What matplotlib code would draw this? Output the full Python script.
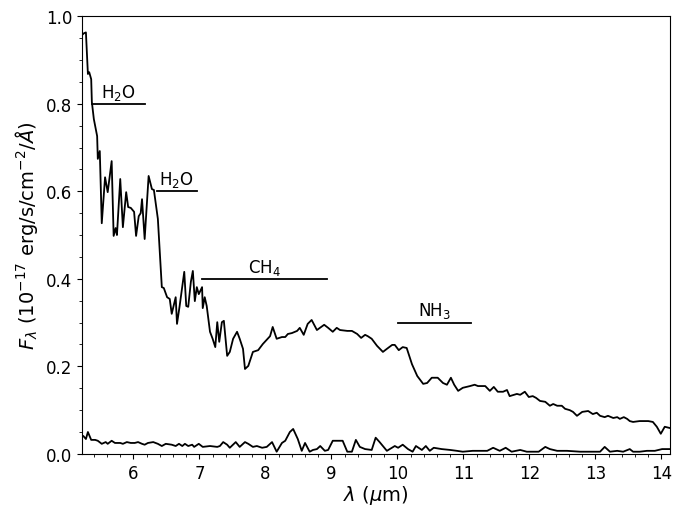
import matplotlib
matplotlib.use('Agg')
import matplotlib.pyplot as plt
import numpy as np

# spectrum (wavelength in micron, flux in 1e-17 erg/s/cm^2/A)
wave = [5.22, 5.25, 5.28, 5.31, 5.33, 5.36, 5.37, 5.40, 5.45, 5.46,
        5.49, 5.52, 5.57, 5.61, 5.67, 5.70, 5.73, 5.75, 5.80, 5.84,
        5.89, 5.92, 5.96, 6.01, 6.04, 6.08, 6.11, 6.13, 6.17, 6.23,
        6.28, 6.31, 6.37, 6.43, 6.46, 6.51, 6.55, 6.58, 6.64, 6.66,
        6.70, 6.77, 6.80, 6.83, 6.87, 6.90, 6.93, 6.96, 6.99, 7.04,
        7.05, 7.08, 7.11, 7.16, 7.20, 7.24, 7.27, 7.30, 7.34, 7.37,
        7.42, 7.46, 7.51, 7.57, 7.61, 7.66, 7.69, 7.74, 7.81, 7.89,
        7.96, 8.07, 8.11, 8.17, 8.25, 8.30, 8.34, 8.40, 8.48, 8.52,
        8.58, 8.64, 8.70, 8.78, 8.89, 8.95, 9.02, 9.08, 9.13, 9.24,
        9.31, 9.39, 9.45, 9.51, 9.55, 9.61, 9.69, 9.78, 9.84, 9.92,
        9.96, 10.02, 10.08, 10.14, 10.22, 10.30, 10.39, 10.45, 10.52, 10.61,
        10.69, 10.75, 10.81, 10.86, 10.92, 10.99, 11.10, 11.17, 11.22, 11.33,
        11.40, 11.46, 11.52, 11.60, 11.66, 11.70, 11.81, 11.86, 11.93, 11.99,
        12.05, 12.10, 12.16, 12.24, 12.31, 12.36, 12.42, 12.49, 12.54, 12.61,
        12.66, 12.72, 12.80, 12.89, 12.96, 13.02, 13.07, 13.14, 13.19, 13.27,
        13.33, 13.37, 13.43, 13.48, 13.52, 13.57, 13.67, 13.80, 13.87, 13.93,
        13.99, 14.05, 14.13]
flux = [0.957, 0.961, 0.963, 0.868, 0.872, 0.856, 0.804, 0.765, 0.726, 0.674,
        0.692, 0.527, 0.632, 0.598, 0.669, 0.498, 0.516, 0.500, 0.628, 0.518,
        0.598, 0.564, 0.562, 0.553, 0.498, 0.543, 0.550, 0.582, 0.491, 0.635,
        0.605, 0.603, 0.537, 0.381, 0.379, 0.358, 0.354, 0.320, 0.358, 0.297,
        0.338, 0.416, 0.338, 0.336, 0.393, 0.418, 0.349, 0.381, 0.365, 0.381,
        0.333, 0.358, 0.338, 0.279, 0.263, 0.244, 0.301, 0.256, 0.301, 0.304,
        0.224, 0.233, 0.263, 0.279, 0.263, 0.240, 0.194, 0.201, 0.233, 0.237,
        0.251, 0.269, 0.290, 0.263, 0.267, 0.267, 0.274, 0.276, 0.281, 0.288,
        0.272, 0.297, 0.306, 0.283, 0.295, 0.288, 0.279, 0.288, 0.283, 0.281,
        0.281, 0.274, 0.265, 0.272, 0.269, 0.263, 0.247, 0.233, 0.240, 0.249,
        0.249, 0.237, 0.244, 0.242, 0.205, 0.178, 0.160, 0.162, 0.174, 0.174,
        0.162, 0.158, 0.174, 0.158, 0.144, 0.151, 0.155, 0.158, 0.155, 0.155,
        0.144, 0.153, 0.142, 0.142, 0.146, 0.132, 0.137, 0.135, 0.142, 0.130,
        0.132, 0.128, 0.121, 0.119, 0.110, 0.114, 0.110, 0.110, 0.103, 0.100,
        0.096, 0.087, 0.096, 0.098, 0.091, 0.094, 0.087, 0.084, 0.087, 0.082,
        0.084, 0.080, 0.084, 0.080, 0.075, 0.073, 0.075, 0.075, 0.073, 0.062,
        0.046, 0.062, 0.059]

# flux uncertainty
err_wave = [5.22, 5.24, 5.28, 5.31, 5.36, 5.42, 5.46, 5.52, 5.58, 5.61,
            5.67, 5.72, 5.80, 5.84, 5.90, 5.96, 6.02, 6.07, 6.13, 6.17,
            6.22, 6.30, 6.37, 6.43, 6.49, 6.58, 6.64, 6.69, 6.74, 6.78,
            6.83, 6.89, 6.92, 6.99, 7.05, 7.16, 7.27, 7.31, 7.36, 7.42,
            7.46, 7.55, 7.61, 7.69, 7.74, 7.81, 7.87, 7.95, 8.02, 8.10,
            8.17, 8.25, 8.30, 8.37, 8.42, 8.49, 8.55, 8.60, 8.67, 8.72,
            8.78, 8.83, 8.90, 8.95, 9.02, 9.17, 9.24, 9.31, 9.37, 9.43,
            9.51, 9.61, 9.67, 9.73, 9.84, 9.96, 10.01, 10.08, 10.16, 10.23,
            10.28, 10.37, 10.43, 10.49, 10.55, 10.67, 10.80, 10.90, 10.99, 11.14,
            11.25, 11.36, 11.45, 11.55, 11.64, 11.73, 11.86, 11.96, 12.05, 12.14,
            12.24, 12.31, 12.42, 12.57, 12.77, 12.96, 13.07, 13.14, 13.22, 13.33,
            13.42, 13.52, 13.57, 13.67, 13.78, 13.90, 14.01, 14.13]
err = [0.039, 0.041, 0.034, 0.050, 0.032, 0.032, 0.030, 0.023, 0.027, 0.023,
       0.030, 0.025, 0.025, 0.023, 0.027, 0.025, 0.025, 0.027, 0.023, 0.021,
       0.025, 0.027, 0.023, 0.018, 0.023, 0.021, 0.018, 0.023, 0.018, 0.023,
       0.018, 0.021, 0.016, 0.023, 0.016, 0.018, 0.016, 0.018, 0.027, 0.021,
       0.014, 0.027, 0.016, 0.027, 0.023, 0.016, 0.018, 0.014, 0.016, 0.027,
       0.005, 0.025, 0.030, 0.050, 0.057, 0.034, 0.007, 0.025, 0.005, 0.009,
       0.011, 0.018, 0.007, 0.009, 0.030, 0.030, 0.005, 0.005, 0.032, 0.016,
       0.011, 0.009, 0.037, 0.027, 0.007, 0.018, 0.014, 0.021, 0.011, 0.005,
       0.018, 0.009, 0.018, 0.007, 0.014, 0.011, 0.009, 0.007, 0.005, 0.007,
       0.007, 0.007, 0.014, 0.007, 0.014, 0.005, 0.009, 0.005, 0.005, 0.005,
       0.016, 0.011, 0.007, 0.007, 0.005, 0.005, 0.005, 0.016, 0.005, 0.007,
       0.005, 0.011, 0.005, 0.005, 0.007, 0.007, 0.011, 0.011]

# absorption band markers: label, start, end, level
bands = ['H$_2$O', 'H$_2$O', 'CH$_4$', 'NH$_3$']
band_start = [5.37, 6.35, 7.04, 10.01]
band_end = [6.17, 6.96, 8.93, 11.11]
band_level = [0.8, 0.6, 0.4, 0.3]

fig = plt.figure(figsize=(6.83, 5.06), dpi=100)
ax = fig.add_subplot(111)
fig.subplots_adjust(left=0.12, right=0.981, bottom=0.101, top=0.966)

ax.plot(wave, flux, color='k', lw=1.3)
ax.plot(err_wave, err, color='k', lw=1.3)

for name, x0, x1, y in zip(bands, band_start, band_end, band_level):
    ax.plot([x0, x1], [y, y], color='k', lw=1.3)
    ax.text((x0 + x1) / 2, y + 0.005, name, ha='center', va='bottom', fontsize=12)

ax.set_xlim(5.22, 14.13)
ax.set_ylim(0, 1.0)
ax.minorticks_on()
ax.tick_params(labelsize=12)
ax.set_xlabel(r'$\lambda$ ($\mu$m)', fontsize=14, labelpad=1)
ax.set_ylabel(r'$F_\lambda$ ($10^{-17}$ erg/s/cm$^{-2}$/$\AA$)', fontsize=14)

fig.savefig('out.png', dpi=100)
